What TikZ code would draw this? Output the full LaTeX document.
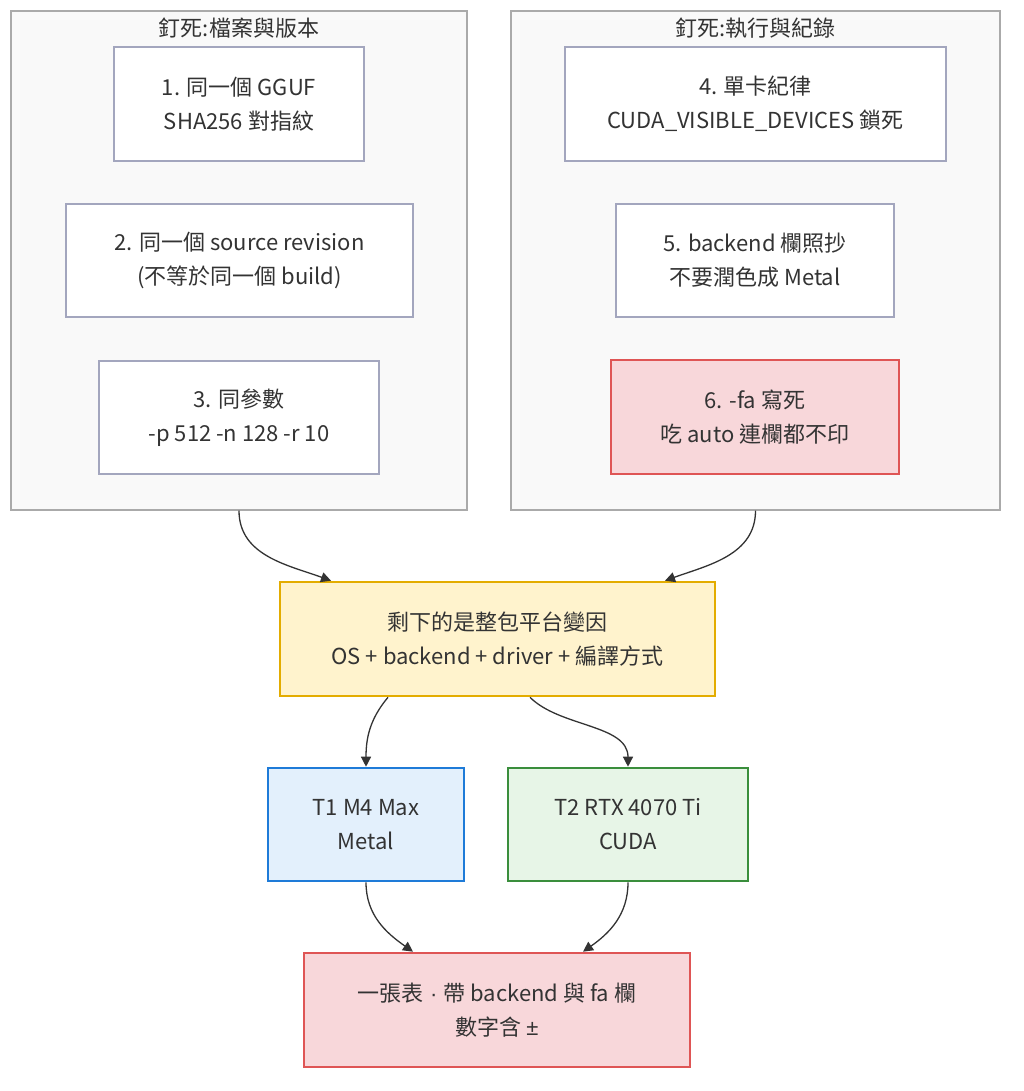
\documentclass[tikz,border=0pt]{standalone}
\usepackage{fontspec}
\setmainfont{Noto Sans CJK TC}
\newfontfamily\symfont{Liberation Sans}
\usetikzlibrary{arrows.meta,calc}
\definecolor{txt}{HTML}{333333}
\definecolor{clfill}{HTML}{F9F9F9}
\definecolor{clline}{HTML}{AAAAAA}
\definecolor{nline}{HTML}{A3A6BE}
\definecolor{redfill}{HTML}{F8D7DA}
\definecolor{redline}{HTML}{DF5555}
\definecolor{yelfill}{HTML}{FFF3CD}
\definecolor{yelline}{HTML}{E3AC00}
\definecolor{blufill}{HTML}{E3F0FC}
\definecolor{bluline}{HTML}{1E7BD8}
\definecolor{grnfill}{HTML}{E7F5E7}
\definecolor{grnline}{HTML}{3A8E3C}
\tikzset{
  txtfont/.style={font=\fontsize{22pt}{34pt}\selectfont, text=txt},
  cluster/.style={rectangle, draw=clline, fill=clfill, line width=1.3pt, inner sep=0pt},
  title/.style={txtfont, inner sep=0pt},
  box/.style={rectangle, draw=nline, fill=white, line width=1.3pt, align=center, inner sep=0pt, txtfont},
  redbox/.style={box, draw=redline, fill=redfill, line width=2.6pt},
  yelbox/.style={box, draw=yelline, fill=yelfill, line width=2.6pt},
  blubox/.style={box, draw=bluline, fill=blufill, line width=2.6pt},
  grnbox/.style={box, draw=grnline, fill=grnfill, line width=2.6pt},
  edge/.style={draw=txt, line width=1.3pt, -{Triangle[length=10pt,width=10pt]}},
}
\begin{document}
\begin{tikzpicture}[x=1pt,y=1pt]
\useasboundingbox (0,0) rectangle (1024,-1091);
\fill[white] (0,0) rectangle (1024,-1091);

% clusters
\node[cluster, minimum width=456pt, minimum height=499pt] (cL) at (239,-260.5) {};
\node[cluster, minimum width=489pt, minimum height=499pt] (cR) at (755.5,-260.5) {};
\node[title] (tL) at (239,-28) {釘死:檔案與版本};
\node[title] (tR) at (755.5,-28) {釘死:執行與紀錄};

% left cluster nodes
\node[box, minimum width=250pt, minimum height=114pt] (n1) at (239,-104) {1. 同一個 GGUF\\SHA256 對指紋};
\node[box, minimum width=347pt, minimum height=113pt] (n2) at (239.5,-260.5) {2. 同一個 source revision\\(不等於同一個 build)};
\node[box, minimum width=280pt, minimum height=113pt] (n3) at (239,-417.5) {3. 同參數\\-p 512 -n 128 -r 10};

% right cluster nodes
\node[box, minimum width=381pt, minimum height=114pt] (n4) at (755.5,-104) {4. 單卡紀律\\CUDA\_VISIBLE\_DEVICES 鎖死};
\node[box, minimum width=278pt, minimum height=113pt] (n5) at (755,-260.5) {5. backend 欄照抄\\不要潤色成 Metal};
\node[redbox, minimum width=288pt, minimum height=114pt] (n6) at (755,-417) {6. -fa 寫死\\吃 auto 連欄都不印};

% lower nodes
\node[yelbox, minimum width=435pt, minimum height=114pt] (Y) at (497.5,-639) {剩下的是整包平台變因\\OS + backend + driver + 編譯方式};
\node[blubox, minimum width=196pt, minimum height=113pt] (T1) at (366,-824.5) {T1 M4 Max\\Metal};
\node[grnbox, minimum width=240pt, minimum height=113pt] (T2) at (628,-824.5) {T2 RTX 4070 Ti\\CUDA};
\node[redbox, minimum width=386pt, minimum height=114pt] (B) at (497,-1010) {一張表{\symfont\ ·\ }帶 backend 與 fa 欄\\數字含 {\symfont ±}};

% edges
\draw[edge] (cL.south) to[out=-90,in=160] ([xshift=-166.5pt]Y.north);
\draw[edge] (cR.south) to[out=-90,in=20] ([xshift=167.5pt]Y.north);
\draw[edge] ([xshift=-109.5pt]Y.south) to[out=-130,in=90] (T1.north);
\draw[edge] ([xshift=32.5pt]Y.south) to[out=-45,in=90,looseness=0.9] (T2.north);
\draw[edge] (T1.south) to[out=-90,in=145] ([xshift=-84pt]B.north);
\draw[edge] (T2.south) to[out=-90,in=35] ([xshift=86pt]B.north);
\end{tikzpicture}
\end{document}
